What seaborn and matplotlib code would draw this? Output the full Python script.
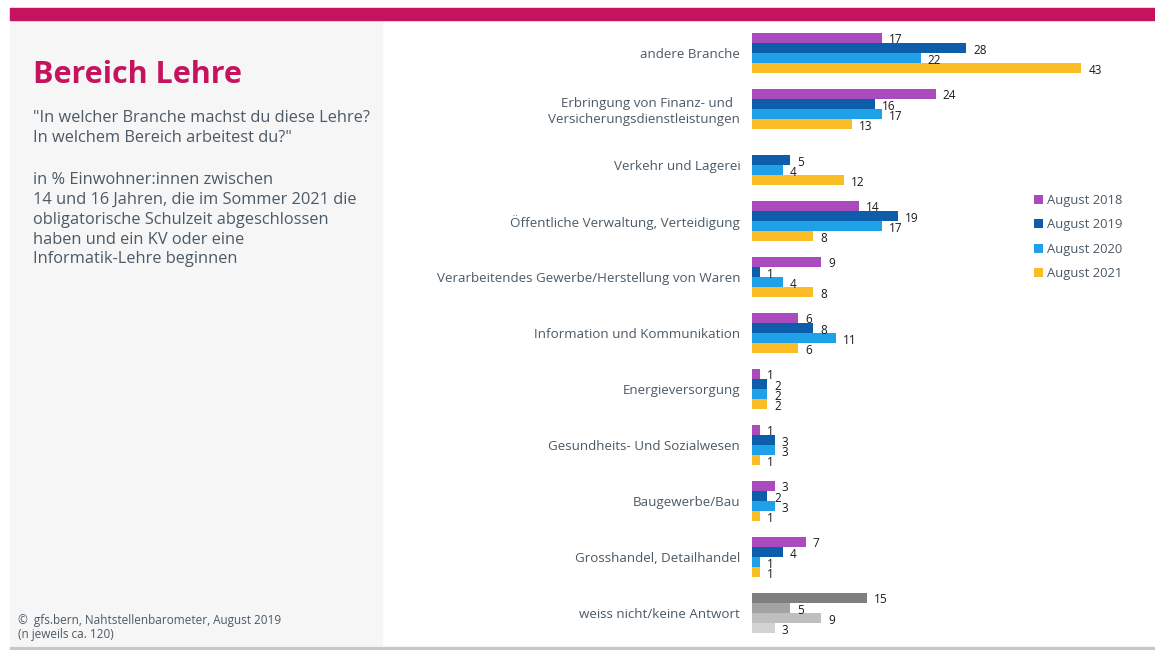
import numpy as np
import pandas as pd
import matplotlib.pyplot as plt
import seaborn as sns
from matplotlib.patches import Rectangle

# data (0 = no answer given in that year, no bar drawn)
categories = [
    "andere Branche",
    "Erbringung von Finanz- und  \nVersicherungsdienstleistungen",
    "Verkehr und Lagerei",
    "Öffentliche Verwaltung, Verteidigung",
    "Verarbeitendes Gewerbe/Herstellung von Waren",
    "Information und Kommunikation",
    "Energieversorgung",
    "Gesundheits- Und Sozialwesen",
    "Baugewerbe/Bau",
    "Grosshandel, Detailhandel",
    "weiss nicht/keine Antwort",
]
years = ["August 2018", "August 2019", "August 2020", "August 2021"]
aug_2018 = [17, 24, 0, 14, 9, 6, 1, 1, 3, 7, 15]
aug_2019 = [28, 16, 5, 19, 1, 8, 2, 3, 2, 4, 5]
aug_2020 = [22, 17, 4, 17, 4, 11, 2, 3, 3, 1, 9]
aug_2021 = [43, 13, 12, 8, 8, 6, 2, 1, 1, 1, 3]

colors = ["#a94bbe", "#0c5eab", "#1fa1e9", "#fbbd26"]
grays = ["#7f7f7f", "#a3a3a3", "#bfbfbf", "#d3d3d3"]
text_col = "#4b5a66"
magenta = "#c5135d"

df = pd.DataFrame({
    "Branche": categories * 4,
    "Jahr": [y for y in years for _ in categories],
    "Wert": aug_2018 + aug_2019 + aug_2020 + aug_2021,
})

sns.set_theme(style="white")
plt.rcParams["font.family"] = ["Open Sans", "DejaVu Sans"]

fig = plt.figure(figsize=(11.55, 6.5), dpi=100)

# background decorations
fig.patches.append(Rectangle((10 / 1155, 1 - 645 / 650), 372 / 1155, 625 / 650,
                             transform=fig.transFigure, color="#f6f6f6", zorder=0))
fig.patches.append(Rectangle((10 / 1155, 1 - 20 / 650), 1145 / 1155, 12 / 650,
                             transform=fig.transFigure, color=magenta, zorder=1))
fig.patches.append(Rectangle((10 / 1155, 1 - 650 / 650), 1145 / 1155, 3 / 650,
                             transform=fig.transFigure, color="#c8c8c8", zorder=1))

ax = fig.add_axes([752 / 1155, 1 - 641 / 650, 383 / 1155, 616 / 650])
sns.barplot(data=df, y="Branche", x="Wert", hue="Jahr", palette=colors,
            order=categories, hue_order=years, width=0.72, orient="h", ax=ax,
            saturation=1, linewidth=0, legend=True)

last = len(categories) - 1
for i, cont in enumerate(ax.containers):
    cont.patches[last].set_facecolor(grays[i])
    labels = ["" if v == 0 else f"{int(v)}" for v in cont.datavalues]
    texts = ax.bar_label(cont, labels=labels, padding=5, fontsize=8.5, color="#1a1a1a")
    for t in texts:
        t.xyann = (t.xyann[0], t.xyann[1] - 1.5)

ax.set_xlim(0, 50)
ax.set_ylim(len(categories) - 0.5, -0.5)
ax.set_xlabel("")
ax.set_ylabel("")
ax.set_xticks([])
ax.tick_params(axis="y", length=0, pad=8.5)
for lbl in ax.get_yticklabels():
    lbl.set_fontsize(9.6)
    lbl.set_color(text_col)
    lbl.set_horizontalalignment("right")
sns.despine(ax=ax, left=True, bottom=True)
ax.patch.set_alpha(0)

leg = ax.legend(loc="upper left", bbox_to_anchor=(1022 / 1155, 1 - 182 / 650),
                bbox_transform=fig.transFigure, frameon=False, fontsize=9.4,
                handlelength=0.7, handleheight=0.7, handletextpad=0.35,
                labelspacing=0.88, labelcolor=text_col)

# left panel texts
fig.text(33 / 1155, 1 - 83 / 650, "Bereich Lehre", fontsize=22, fontweight="bold",
         color=magenta, va="baseline")
fig.text(33 / 1155, 1 - 110 / 650,
         "\"In welcher Branche machst du diese Lehre?\nIn welchem Bereich arbeitest du?\"",
         fontsize=11.8, color=text_col, va="top", linespacing=1.32)
fig.text(33 / 1155, 1 - 172 / 650,
         "in % Einwohner:innen zwischen\n14 und 16 Jahren, die im Sommer 2021 die\n"
         "obligatorische Schulzeit abgeschlossen\nhaben und ein KV oder eine\n"
         "Informatik-Lehre beginnen",
         fontsize=11.8, color=text_col, va="top", linespacing=1.32)
fig.text(18 / 1155, 1 - 614 / 650,
         "©  gfs.bern, Nahtstellenbarometer, August 2019\n(n jeweils ca. 120)",
         fontsize=8.5, color=text_col, va="top", linespacing=1.1)

fig.savefig("out.png", dpi=100)
